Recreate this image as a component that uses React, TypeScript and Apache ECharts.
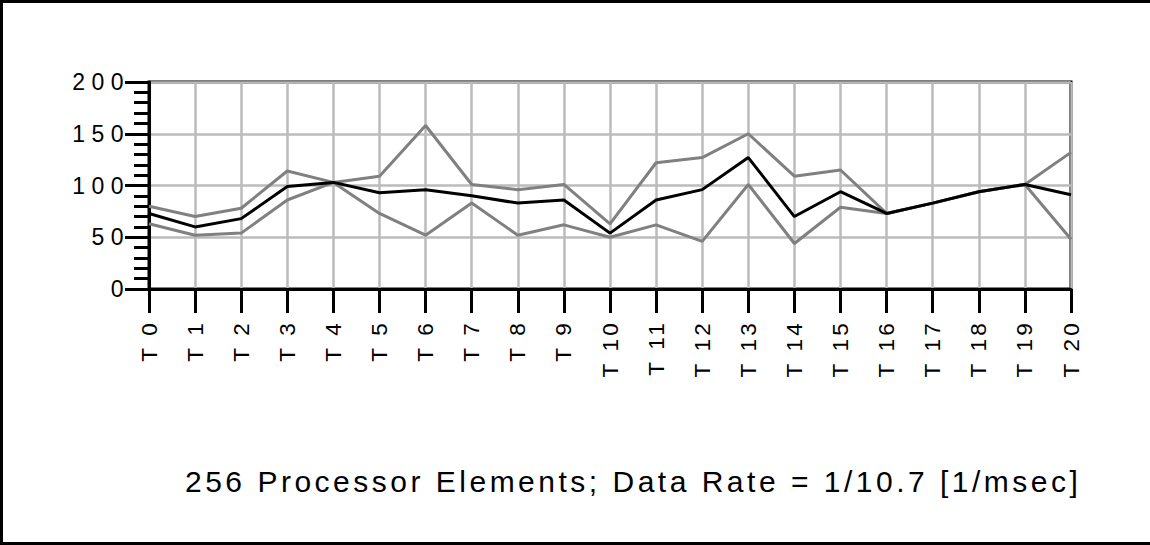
import React, { useEffect, useRef } from "react";
import * as echarts from "echarts";

const categories = Array.from({ length: 21 }, (_, i) => `T ${i}`);
const upperValues = [80, 70, 78, 114, 103, 109, 158, 101, 96, 101, 63, 122, 127, 150, 109, 115, 73, 83, 94, 101, 132];
const meanValues = [73, 60, 68, 99, 103, 93, 96, 90, 83, 86, 54, 86, 96, 127, 70, 94, 73, 83, 94, 101, 91];
const lowerValues = [63, 52, 54, 86, 103, 73, 52, 83, 52, 62, 50, 62, 46, 101, 44, 79, 73, 83, 94, 101, 48];
const caption = "256 Processor Elements; Data Rate = 1/10.7 [1/msec]";

const FONT = "'Liberation Sans', Arial, Helvetica, sans-serif";

const css = `
#chart-root text[style*="23px"] { letter-spacing: 6.5px; }
#chart-root text[style*="22.5px"] { letter-spacing: 3.2px; }
#chart-root text[style*="30px"] { letter-spacing: 3.5px; }
`;

export default function App() {
  const ref = useRef<HTMLDivElement>(null);
  useEffect(() => {
    if (!ref.current) return;
    const chart = echarts.init(ref.current, undefined, { renderer: "svg" });
    chart.setOption({
      animation: false,
      backgroundColor: "#fff",
      grid: {
        left: 149,
        right: 79,
        top: 82,
        bottom: 256,
        show: true,
        borderColor: "#000",
        borderWidth: 3,
        backgroundColor: "transparent",
      },
      graphic: [
        {
          type: "rect",
          shape: { x: 1.5, y: 1.5, width: 1200, height: 542 },
          style: { fill: "none", stroke: "#000", lineWidth: 3 },
          z: 100,
        },
        {
          type: "text",
          left: 185,
          top: 466,
          style: {
            text: caption,
            fontSize: 30,
            fontFamily: FONT,
            fill: "#000",
          },
        },
      ],
      xAxis: {
        type: "category",
        data: categories,
        boundaryGap: false,
        axisLine: { show: true, lineStyle: { color: "#000", width: 3 } },
        axisTick: { show: true, length: 24, lineStyle: { color: "#000", width: 3 } },
        splitLine: { show: true, lineStyle: { color: "#bbbbbb", width: 2.5 } },
        axisLabel: {
          rotate: 90,
          margin: 31,
          fontSize: 22.5,
          fontFamily: FONT,
          color: "#000",
          interval: 0,
        },
      },
      yAxis: {
        type: "value",
        min: 0,
        max: 200,
        interval: 50,
        axisLine: { show: true, lineStyle: { color: "#000", width: 3 } },
        axisTick: { show: true, length: 24, lineStyle: { color: "#000", width: 3 } },
        minorTick: { show: true, splitNumber: 5, length: 15, lineStyle: { color: "#000", width: 3 } },
        splitLine: { show: true, lineStyle: { color: "#bbbbbb", width: 2.5 } },
        axisLabel: {
          margin: 19,
          fontSize: 23,
          fontFamily: FONT,
          color: "#000",
        },
      },
      series: [
        {
          name: "upper",
          type: "line",
          data: upperValues,
          symbol: "none",
          lineStyle: { color: "#808080", width: 3 },
          z: 2,
        },
        {
          name: "lower",
          type: "line",
          data: lowerValues,
          symbol: "none",
          lineStyle: { color: "#808080", width: 3 },
          z: 2,
        },
        {
          name: "mean",
          type: "line",
          data: meanValues,
          symbol: "none",
          lineStyle: { color: "#000", width: 3 },
          z: 3,
        },
      ],
    });
    return () => chart.dispose();
  }, []);
  return (
    <>
      <style>{css}</style>
      <div
        id="chart-root"
        ref={ref}
        style={{ position: "fixed", left: 0, top: 0, width: 1150, height: 545, background: "#fff" }}
      />
    </>
  );
}
